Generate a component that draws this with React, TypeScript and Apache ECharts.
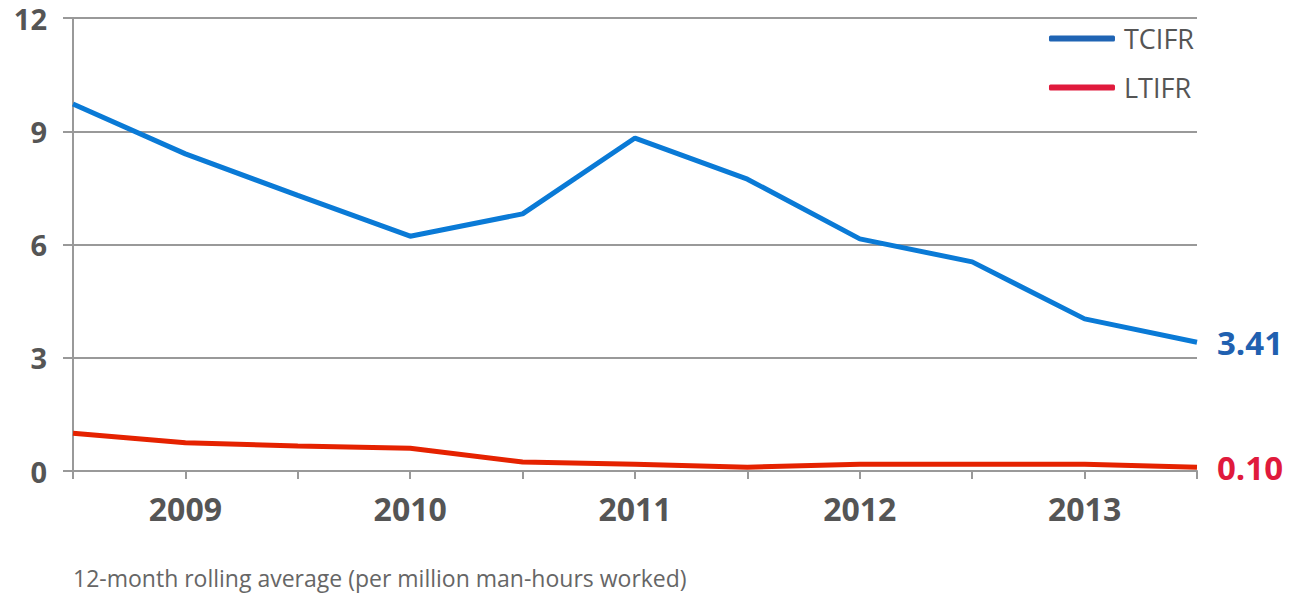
import React, { useEffect, useRef } from "react";
import * as echarts from "echarts";

const categories = ["", "2009", "", "2010", "", "2011", "", "2012", "", "2013", ""];
const tcifr = [9.72, 8.4, 7.3, 6.22, 6.81, 8.82, 7.73, 6.15, 5.54, 4.03, 3.41];
const ltifr = [1.0, 0.75, 0.66, 0.6, 0.24, 0.18, 0.1, 0.18, 0.18, 0.18, 0.1];
const yTicks = [0, 3, 6, 9, 12];
const footnote = "12-month rolling average (per million man-hours worked)";

const FONT = "'Open Sans', 'Noto Sans', sans-serif";

export default function App() {
  const ref = useRef<HTMLDivElement>(null);
  useEffect(() => {
    document.body.style.margin = "0";
    const chart = echarts.init(ref.current!, null, { renderer: "svg" });
    chart.setOption({
      animation: false,
      backgroundColor: "#ffffff",
      grid: { left: 73, right: 95, top: 18, bottom: 125 },
      legend: {
        orient: "vertical",
        right: 93,
        top: 20,
        itemWidth: 66,
        itemHeight: 6,
        itemGap: 22,
        textStyle: { fontFamily: FONT, fontSize: 27, color: "#555555", padding: [0, 0, 0, 4] },
        data: [
          { name: "TCIFR", icon: "roundRect", itemStyle: { color: "#1f64b4" } },
          { name: "LTIFR", icon: "roundRect", itemStyle: { color: "#e01a3c" } },
        ],
      },
      xAxis: {
        type: "category",
        data: categories,
        boundaryGap: false,
        axisLine: { show: true, lineStyle: { color: "#999999", width: 2 } },
        axisTick: { show: true, interval: 0, length: 8, lineStyle: { color: "#999999", width: 2 } },
        axisLabel: {
          interval: 0,
          margin: 21,
          fontFamily: FONT,
          fontSize: 32,
          fontWeight: "bold",
          color: "#555555",
        },
        splitLine: { show: false },
      },
      yAxis: {
        type: "value",
        min: yTicks[0],
        max: yTicks[yTicks.length - 1],
        interval: 3,
        axisLine: { show: true, lineStyle: { color: "#999999", width: 2 } },
        axisTick: { show: true, length: 10, lineStyle: { color: "#999999", width: 2 } },
        axisLabel: {
          margin: 26,
          fontFamily: FONT,
          fontSize: 29,
          fontWeight: "bold",
          color: "#555555",
        },
        splitLine: { show: true, lineStyle: { color: "#999999", width: 2 } },
      },
      series: [
        {
          name: "TCIFR",
          type: "line",
          data: tcifr,
          symbol: "none",
          lineStyle: { color: "#0a7ad6", width: 5 },
          itemStyle: { color: "#1f64b4" },
          endLabel: {
            show: true,
            distance: 20,
            formatter: (p: any) => Number(p.value).toFixed(2),
            fontFamily: FONT,
            fontSize: 33,
            fontWeight: "bold",
            color: "#2060b0",
          },
          z: 3,
        },
        {
          name: "LTIFR",
          type: "line",
          data: ltifr,
          symbol: "none",
          lineStyle: { color: "#e52200", width: 5 },
          itemStyle: { color: "#e01a3c" },
          endLabel: {
            show: true,
            distance: 20,
            formatter: (p: any) => Number(p.value).toFixed(2),
            fontFamily: FONT,
            fontSize: 33,
            fontWeight: "bold",
            color: "#e01a3c",
          },
          z: 3,
        },
      ],
      graphic: [
        {
          type: "text",
          left: 73,
          top: 566,
          style: { text: footnote, fontFamily: FONT, fontSize: 23, fill: "#666666" },
        },
      ],
    });
    return () => chart.dispose();
  }, []);
  return <div ref={ref} style={{ width: 1292, height: 596 }} />;
}
